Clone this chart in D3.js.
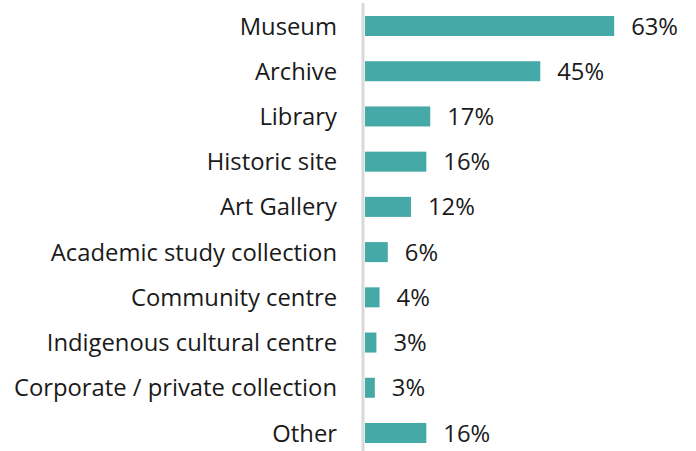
<!DOCTYPE html>
<html>
<head>
<meta charset="utf-8">
<script src="https://cdn.jsdelivr.net/npm/d3@7"></script>
<style>
  html, body { margin: 0; padding: 0; background: #fff; }
  svg { display: block; }
  text { font-family: "Open Sans", sans-serif; fill: #1a1a1a; }
</style>
</head>
<body>
<svg id="chart" width="696" height="451"></svg>
<script>
const categories = [
  "Museum", "Archive", "Library", "Historic site", "Art Gallery",
  "Academic study collection", "Community centre",
  "Indigenous cultural centre", "Corporate / private collection", "Other"
];
const values = [63.4, 44.6, 16.6, 15.6, 11.7, 5.8, 3.7, 2.9, 2.5, 15.6];
const valueLabels = ["63%", "45%", "17%", "16%", "12%", "6%", "4%", "3%", "3%", "16%"];

const svg = d3.select("#chart");
const W = 696, H = 451;
const x0 = 365;

const y = d3.scaleBand()
  .domain(categories)
  .range([16, 443])
  .paddingInner(0.5575)
  .paddingOuter(0);

const x = d3.scaleLinear()
  .domain([0, 70])
  .range([x0, x0 + 70 * 3.93]);

// axis line
svg.append("line")
  .attr("x1", 363).attr("x2", 363)
  .attr("y1", 3).attr("y2", H)
  .attr("stroke", "#d9d9d9")
  .attr("stroke-width", 3);

const data = categories.map((c, i) => ({ c, v: values[i], l: valueLabels[i] }));

svg.selectAll("rect.bar").data(data).enter().append("rect")
  .attr("class", "bar")
  .attr("x", x(0))
  .attr("y", d => y(d.c))
  .attr("width", d => x(d.v) - x(0))
  .attr("height", y.bandwidth())
  .attr("fill", "#45a9a7");

svg.selectAll("text.cat").data(data).enter().append("text")
  .attr("class", "cat")
  .attr("x", 337)
  .attr("y", d => y(d.c) + y.bandwidth() / 2)
  .attr("dy", "0.36em")
  .attr("text-anchor", "end")
  .attr("font-size", 23.8)
  .text(d => d.c);

svg.selectAll("text.val").data(data).enter().append("text")
  .attr("class", "val")
  .attr("x", d => x(d.v) + 17)
  .attr("y", d => y(d.c) + y.bandwidth() / 2)
  .attr("dy", "0.36em")
  .attr("font-size", 23.8)
  .text(d => d.l);
</script>
</body>
</html>
